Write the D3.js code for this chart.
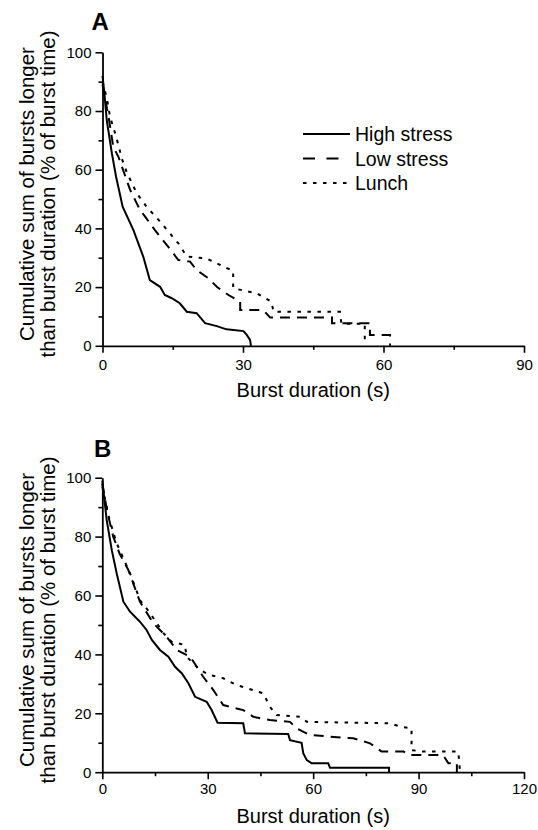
<!DOCTYPE html>
<html>
<head>
<meta charset="utf-8">
<script src="https://cdn.jsdelivr.net/npm/d3@7"></script>
<style>
  body { margin: 0; background: #fff; }
  svg text { font-family: "Liberation Sans", Arial, sans-serif; fill: #000; }
</style>
</head>
<body>
<div id="chart"></div>
<script>
// 数据: [burst duration (s), cumulative %]
let highA = [[0,92],[0.4,86],[0.9,77],[2.0,65.6],[2.9,57.6],[4.3,47.4],[6.6,39.4],[8.7,30.4],[10.1,22.4],[12.3,20.1],[13.3,17.3],[14.8,16.2],[16.5,14.5],[18,11.6],[20.1,11.1],[21.9,7.7],[24.4,6.7],[26.5,5.6],[30.1,5.0],[30.8,3.7],[31.5,2.0],[31.7,0]];
let lowA = [[0,89],[1.3,78],[2.3,67.8],[3.4,64.4],[5.9,53.1],[8,46.3],[9.1,44],[11.2,39.4],[14,33.8],[16.2,29.2],[18.7,28.7],[20.1,25.8],[22.6,23],[24.4,20.1],[26.9,17.3],[29.4,15],[29.4,12.2],[34.3,12.2],[35.8,9.6],[49,9.6],[49,7.7],[57.1,7.7],[57.1,3.7],[61.4,3.7],[61.4,0]];
let lunchA = [[0,90],[0.5,87],[1.2,82],[1.6,78],[2.5,73.5],[3.4,68.4],[4.1,63.9],[5.2,59],[7.3,52],[9.4,47.4],[12.3,42.3],[14.4,38.3],[16.2,34.9],[18,30.4],[22.2,29.8],[26.5,26.5],[27.9,25.5],[27.9,19.6],[32.9,17.9],[36.1,15],[36.5,11.6],[50.7,11.6],[51,7.5],[56,7.5],[56,0]];

let highB = [[0,99],[1.25,85.6],[2.7,75.4],[4.1,67.5],[6,57.9],[7.9,54.5],[10.7,51.1],[12.6,48.3],[14.1,44.9],[16.4,41.5],[18.8,39.2],[20.7,35.8],[22.6,33.6],[24.5,30.2],[26.4,25.6],[29.7,23.9],[31.1,21.1],[32.8,16.8],[40.1,16.6],[40.6,13.2],[52.9,13],[53.4,10.9],[56.7,10],[57.2,6.4],[58.2,4.1],[59.6,3],[64.3,3],[64.8,1.5],[81.6,1.5],[81.6,0]];
let lowB = [[0,98],[1.5,88],[3.1,80],[5,74],[7.4,68.7],[10.7,57.9],[14.5,50.6],[18.3,46],[21.2,41.5],[25,39.2],[26.9,35.8],[28.7,32.4],[31.6,27.9],[34.4,22.8],[40.1,21.1],[43,18.8],[47.7,17.7],[53.4,17.1],[55.3,14.9],[59.1,12.6],[71.4,11.5],[76.2,9.8],[79.5,7],[85.7,7],[87.6,5.8],[97,5.8],[98.5,3],[100.9,3],[100.9,0]];
let lunchB = [[0,97],[2,86],[4,78],[7.9,67.5],[10.7,58.5],[13.6,54],[17.4,47.2],[19.7,44.3],[23.5,43.2],[24,39.2],[27.8,34.7],[30.6,33],[34.4,31.9],[38.2,29.6],[45.8,26.8],[47.7,22.2],[49.6,19.4],[56.3,18.8],[58.2,17.1],[81.9,16.6],[84.7,15.5],[88,14.9],[88,7.5],[91.3,7],[101.3,7],[101.8,0]];

let seriesNames = ['High stress', 'Low stress', 'Lunch'];
let yTicks = [0, 20, 40, 60, 80, 100];
let xTicksA = [0, 30, 60, 90];
let xTicksB = [0, 30, 60, 90, 120];

let dashes = [null, '10,7', '3.5,6.5'];
let legendDashes = [null, '12,11.5', '3.5,6.5'];

let svg = d3.select('#chart').append('svg')
    .attr('width', 538)
    .attr('height', 830);

let lineGenerator = d3.line()
    .x(d => d[0])
    .y(d => d[1]);

function drawPanel(cfg) {
    let x = d3.scaleLinear().domain([0, cfg.xMax]).range([cfg.left, cfg.right]);
    let y = d3.scaleLinear().domain([0, 100]).range([cfg.bottom, cfg.top]);
    let g = svg.append('g');

    // 次刻度
    let xMinor = d3.range(15, cfg.xMax, 30);
    let yMinor = d3.range(10, 100, 20);
    g.append('g').attr('transform', `translate(0,${cfg.bottom})`)
        .call(d3.axisBottom(x).tickValues(xMinor).tickSize(4).tickSizeOuter(0).tickFormat(''))
        .call(a => a.select('.domain').remove());
    g.append('g').attr('transform', `translate(${cfg.left},0)`)
        .call(d3.axisLeft(y).tickValues(yMinor).tickSize(4).tickSizeOuter(0).tickFormat(''))
        .call(a => a.select('.domain').remove());

    // 主刻度
    let xAxis = g.append('g').attr('transform', `translate(0,${cfg.bottom})`)
        .call(d3.axisBottom(x).tickValues(cfg.xTicks).tickSize(7).tickSizeOuter(0).tickPadding(cfg.xPad));
    let yAxis = g.append('g').attr('transform', `translate(${cfg.left},0)`)
        .call(d3.axisLeft(y).tickValues(yTicks).tickSize(7).tickSizeOuter(0).tickPadding(4));
    [xAxis, yAxis].forEach(a => {
        a.selectAll('text').style('font-size', '15px').attr('fill', '#000');
        a.select('.domain').attr('stroke', '#000').attr('stroke-width', 1.8);
    });
    g.selectAll('.tick line').attr('stroke', '#000').attr('stroke-width', 1.6);

    // 曲线
    cfg.data.forEach((d, i) => {
        g.append('path')
            .attr('fill', 'none')
            .attr('stroke', '#000')
            .attr('stroke-width', 2)
            .attr('stroke-dasharray', dashes[i])
            .attr('d', lineGenerator(d.map(p => [x(p[0]), y(p[1])])));
    });

    // 标题
    g.append('text').text(cfg.label)
        .attr('x', cfg.labelX).attr('y', cfg.labelY)
        .style('font-size', '24px').style('font-weight', 'bold');
    g.append('text').text('Burst duration (s)')
        .attr('x', (cfg.left + cfg.right) / 2).attr('y', cfg.bottom + 51)
        .attr('text-anchor', 'middle').style('font-size', '20px');
    let cy = (cfg.top + cfg.bottom) / 2 - 5;
    let yl = g.append('text')
        .attr('transform', `translate(34,${cy}) rotate(-90)`)
        .attr('text-anchor', 'middle').style('font-size', '20.5px');
    yl.append('tspan').attr('x', 0).attr('y', 0).text('Cumulative sum of bursts longer');
    yl.append('tspan').attr('x', 0).attr('y', 21).text('than burst duration (% of burst time)');
    return g;
}

drawPanel({
    label: 'A', labelX: 91.5, labelY: 29.5,
    xMax: 90, xTicks: xTicksA, xPad: 7,
    left: 102.5, right: 524, top: 52.3, bottom: 345.8,
    data: [highA, lowA, lunchA]
});
drawPanel({
    label: 'B', labelX: 94, labelY: 457,
    xMax: 120, xTicks: xTicksB, xPad: 4,
    left: 102.3, right: 524, top: 477.7, bottom: 772.2,
    data: [highB, lowB, lunchB]
});

// 图例
let legend = svg.append('g');
seriesNames.forEach((name, i) => {
    let cy = 134 + i * 24.5;
    legend.append('path')
        .attr('stroke', '#000').attr('stroke-width', 2)
        .attr('stroke-dasharray', legendDashes[i])
        .attr('d', lineGenerator([[303, cy], [i === 1 ? 339 : 350, cy]]));
    legend.append('text').text(name)
        .attr('x', 355).attr('y', cy + 7)
        .style('font-size', '19.5px');
});
</script>
</body>
</html>
